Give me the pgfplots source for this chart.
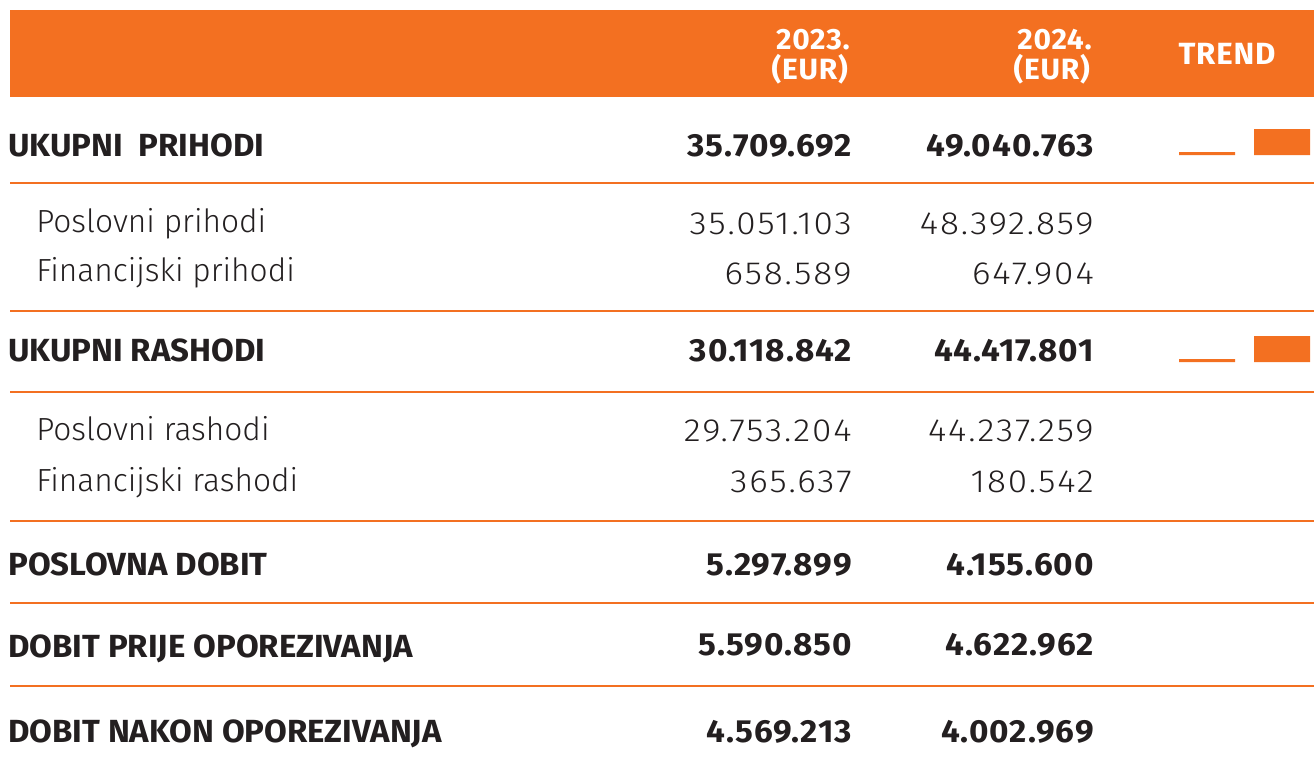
\documentclass[border=0pt]{standalone}
\usepackage{pgfplots}
\pgfplotsset{compat=1.18}
\usepackage{fontspec}
\setmainfont{Fira Sans}[UprightFont={* Light},BoldFont={* Bold}]
\newfontfamily\hb{Fira Sans}[UprightFont={* Bold},FakeStretch=1.03]
\newfontfamily\hbn{Fira Sans}[UprightFont={* Bold},FakeStretch=1.04,LetterSpace=3]
\newfontfamily\hh{Fira Sans}[UprightFont={* Bold},FakeStretch=1.02,LetterSpace=2.5]
\newfontfamily\lt{Fira Sans}[UprightFont={* Light},FakeStretch=0.99]
\newfontfamily\ltn{Fira Sans}[UprightFont={* Light},FakeStretch=1.1,LetterSpace=6]
\definecolor{orng}{RGB}{243,112,33}
\definecolor{ink}{RGB}{35,31,32}

\begin{document}
\begin{tikzpicture}[x=0.75pt,y=-0.75pt]
\useasboundingbox (0,0) rectangle (1314,761);
\fill[orng] (10,10) rectangle (1314,97);
\tikzset{hd/.style={white,inner sep=0pt,font=\hh\fontsize{22}{24}\selectfont},
  bl/.style={ink,inner sep=0pt,font=\hb\fontsize{24}{28}\selectfont},
  bn/.style={ink,inner sep=0pt,font=\hbn\fontsize{24}{28}\selectfont},
  rg/.style={ink,inner sep=0pt,font=\lt\fontsize{24}{28}\selectfont},
  rn/.style={ink,inner sep=0pt,font=\ltn\fontsize{24}{28}\selectfont}}
\node[hd,anchor=base east] at (850,49) {2023.};
\node[hd,anchor=base east] at (848,79) {(EUR)};
\node[hd,anchor=base east] at (1092,49) {2024.};
\node[hd,anchor=base east] at (1090,79) {(EUR)};
\node[hd,anchor=base] at (1227,64) {\fontsize{23}{24}\selectfont TREND};
\foreach \yy in {183,311,392,521,603,686}
  \draw[orng,line width=1.5pt] (10,\yy) -- (1314,\yy);
% rows
\node[bl,anchor=base west] at (8,156) {UKUPNI\ \ PRIHODI};
\node[bn,anchor=base east] at (852,156) {35.709.692};
\node[bn,anchor=base east] at (1094,156) {49.040.763};
\node[rg,anchor=base west] at (36,232) {Poslovni prihodi};
\node[rn,anchor=base east] at (852,234) {35.051.103};
\node[rn,anchor=base east] at (1094,234) {48.392.859};
\node[rg,anchor=base west] at (36,281) {Financijski prihodi};
\node[rn,anchor=base east] at (852,284) {658.589};
\node[rn,anchor=base east] at (1094,284) {647.904};
\node[bl,anchor=base west] at (8,361) {UKUPNI RASHODI};
\node[bn,anchor=base east] at (852,361) {30.118.842};
\node[bn,anchor=base east] at (1094,361) {44.417.801};
\node[rg,anchor=base west] at (36,440) {Poslovni rashodi};
\node[rn,anchor=base east] at (852,441) {29.753.204};
\node[rn,anchor=base east] at (1094,441) {44.237.259};
\node[rg,anchor=base west] at (36,491) {Financijski rashodi};
\node[rn,anchor=base east] at (852,492) {365.637};
\node[rn,anchor=base east] at (1094,492) {180.542};
\node[bl,anchor=base west] at (8,575) {POSLOVNA DOBIT};
\node[bn,anchor=base east] at (852,575) {5.297.899};
\node[bn,anchor=base east] at (1094,575) {4.155.600};
\node[bl,anchor=base west] at (8,657) {DOBIT PRIJE OPOREZIVANJA};
\node[bn,anchor=base east] at (852,655) {5.590.850};
\node[bn,anchor=base east] at (1094,655) {4.622.962};
\node[bl,anchor=base west] at (8,742) {DOBIT NAKON OPOREZIVANJA};
\node[bn,anchor=base east] at (852,742) {4.569.213};
\node[bn,anchor=base east] at (1094,742) {4.002.969};
% trend sparklines
\begin{axis}[at={(877.125pt,-116.25pt)},anchor=south west,scale only axis,
  width=112.5pt,height=19.5pt,hide axis,xmin=0.5,xmax=2.5,
  ymin=33970000,ymax=49040763,ybar,bar width=42pt]
\addplot[draw=none,fill=orng] coordinates {(1,35709692)(2,49040763)};
\end{axis}
\begin{axis}[at={(877.125pt,-271.5pt)},anchor=south west,scale only axis,
  width=112.5pt,height=19.5pt,hide axis,xmin=0.5,xmax=2.5,
  ymin=28253900,ymax=44417801,ybar,bar width=42pt]
\addplot[draw=none,fill=orng] coordinates {(1,30118842)(2,44417801)};
\end{axis}
\end{tikzpicture}
\end{document}
